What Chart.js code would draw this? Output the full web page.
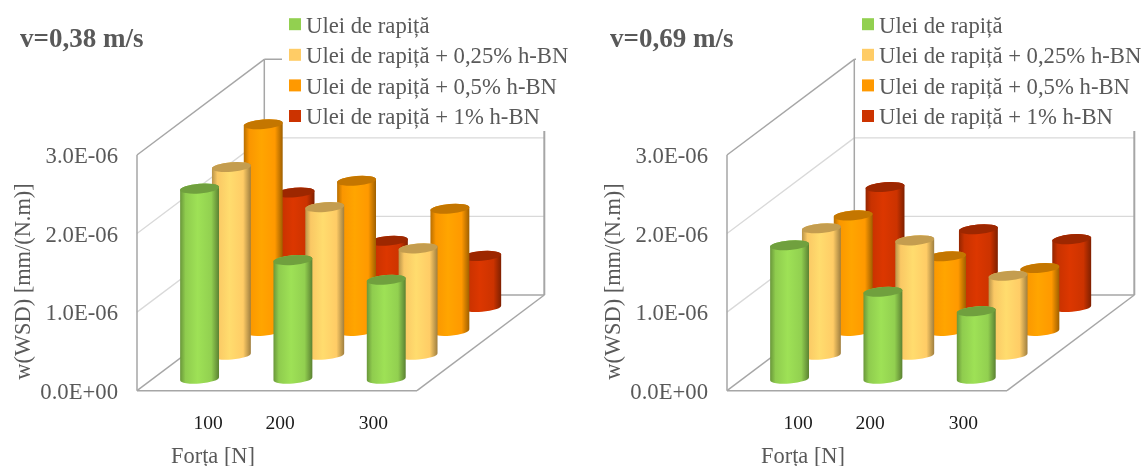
<!DOCTYPE html>
<html lang="ro">
<head>
<meta charset="utf-8">
<title>w(WSD)</title>
<script src="https://cdn.jsdelivr.net/npm/chart.js@4"></script>
<style>
  html, body { margin: 0; background: #fff; }
  canvas { position: absolute; top: 0; }
</style>
</head>
<body>
<canvas id="graficStanga" width="590" height="466" style="left:0"></canvas>
<canvas id="graficDreapta" width="554" height="466" style="left:590px"></canvas>
<script>
// date
const categorii = ['100', '200', '300'];
const serii = ['Ulei de rapiță', 'Ulei de rapiță + 0,25% h-BN', 'Ulei de rapiță + 0,5% h-BN', 'Ulei de rapiță + 1% h-BN'];
const culori = ['#92D050', '#FFCC66', '#FF9900', '#CC3300'];
const etichetaY = ['0.0E+00', '1.0E-06', '2.0E-06', '3.0E-06'];
const titluX = 'Forța [N]';
const titluY = 'w(WSD) [mm/(N.m)]';

// v=0,38 m/s
const v038Rapita = [2.42e-6, 1.51e-6, 1.26e-6];
const v038Bn025 = [2.39e-6, 1.88e-6, 1.355e-6];
const v038Bn05 = [2.63e-6, 1.91e-6, 1.555e-6];
const v038Bn1 = [1.457e-6, 0.843e-6, 0.65e-6];

// v=0,69 m/s
const v069Rapita = [1.70e-6, 1.107e-6, 0.86e-6];
const v069Bn025 = [1.61e-6, 1.457e-6, 1.006e-6];
const v069Bn05 = [1.47e-6, 0.95e-6, 0.80e-6];
const v069Bn1 = [1.527e-6, 0.99e-6, 0.863e-6];

const FONT = '"Liberation Serif", "Times New Roman", serif';
const GRI_TEXT = '#595959';
const GRI_LINIE = '#A6A6A6';
const GRI_GRID = '#D9D9D9';

// adancimea podelei 3D fata de peretele din fata
const ADANCIME_X = 127.3;
const ADANCIME_Y = 95.7;
const RAZA_Y = 4.8;
const TILT = -0.08;

function nuanta(hex, k) {
  const n = parseInt(hex.slice(1), 16);
  const c = [n >> 16, (n >> 8) & 255, n & 255].map(v => Math.min(255, Math.round(v * k)));
  return `rgb(${c[0]},${c[1]},${c[2]})`;
}

function linie(ctx, x1, y1, x2, y2, culoare, grosime) {
  ctx.beginPath();
  ctx.moveTo(x1, y1);
  ctx.lineTo(x2, y2);
  ctx.strokeStyle = culoare;
  ctx.lineWidth = grosime;
  ctx.stroke();
}

function cilindru(ctx, el, idx, culoare) {
  const f = (idx + 0.5) / serii.length;
  const cx = el.x + ADANCIME_X * f;
  const yTop = el.y - ADANCIME_Y * f;
  const yBase = el.base - ADANCIME_Y * f;
  const r = el.width / 2;

  const grad = ctx.createLinearGradient(cx - r, 0, cx + r, 0);
  grad.addColorStop(0, nuanta(culoare, 0.72));
  grad.addColorStop(0.14, nuanta(culoare, 0.98));
  grad.addColorStop(0.45, nuanta(culoare, 1.08));
  grad.addColorStop(0.8, nuanta(culoare, 1.0));
  grad.addColorStop(1, nuanta(culoare, 0.62));

  ctx.beginPath();
  ctx.ellipse(cx, yBase, r, RAZA_Y, TILT, 0, Math.PI);
  ctx.ellipse(cx, yTop, r, RAZA_Y, TILT, Math.PI, Math.PI * 2);
  ctx.closePath();
  ctx.fillStyle = grad;
  ctx.fill();

  ctx.beginPath();
  ctx.ellipse(cx, yTop, r, RAZA_Y, TILT, 0, Math.PI * 2);
  ctx.fillStyle = nuanta(culoare, 0.77);
  ctx.fill();
}

const plugin3d = {
  id: 'plugin3d',
  // etichetele de pe X nu sunt sub centrul categoriei in original
  afterUpdate(chart, args, opts) {
    chart.scales.x.getLabelItems().forEach((item, i) => {
      item.options.translation[0] += opts.decalajEtichete[i];
    });
    chart.scales.y.getLabelItems().forEach(item => {
      item.options.translation[1] += 2;
    });
  },
  beforeDatasetsDraw(chart, args, opts) {
    const ctx = chart.ctx;
    const { x, y } = chart.scales;
    const st = x.left, dr = x.right;
    const jos = y.getPixelForValue(0);
    ctx.save();

    // liniile de grila pe pereti
    [1e-6, 2e-6].forEach(v => {
      const py = y.getPixelForValue(v);
      linie(ctx, st, py, st + ADANCIME_X, py - ADANCIME_Y, GRI_GRID, 1.3);
      linie(ctx, st + ADANCIME_X, py - ADANCIME_Y, dr + ADANCIME_X, py - ADANCIME_Y, GRI_GRID, 1.3);
    });

    const sus = y.getPixelForValue(3e-6);
    linie(ctx, st, sus, st, jos, GRI_LINIE, 1.5);
    linie(ctx, st, sus, st + ADANCIME_X, sus - ADANCIME_Y, GRI_LINIE, 1.5);
    linie(ctx, st + ADANCIME_X, sus - ADANCIME_Y, st + ADANCIME_X, jos - ADANCIME_Y, GRI_LINIE, 1.5);
    linie(ctx, st + ADANCIME_X, sus - ADANCIME_Y, dr + ADANCIME_X, sus - ADANCIME_Y, GRI_LINIE, 1.5);
    linie(ctx, dr + ADANCIME_X, sus - ADANCIME_Y, dr + ADANCIME_X, jos - ADANCIME_Y, GRI_LINIE, 2);
    linie(ctx, st, jos, st + ADANCIME_X, jos - ADANCIME_Y, GRI_LINIE, 1.5);
    linie(ctx, st + ADANCIME_X, jos - ADANCIME_Y, dr + ADANCIME_X, jos - ADANCIME_Y, GRI_LINIE, 1.5);
    linie(ctx, st, jos, dr, jos, GRI_LINIE, 1.5);
    linie(ctx, dr, jos, dr + ADANCIME_X, jos - ADANCIME_Y, GRI_LINIE, 1.5);

    // fundalul alb al legendei acopera capatul peretelui
    ctx.fillStyle = '#fff';
    ctx.fillRect(opts.cutieLegenda, 0, chart.width - opts.cutieLegenda, 131);

    // titlurile axelor
    ctx.fillStyle = GRI_TEXT;
    ctx.font = `22.4px ${FONT}`;
    ctx.textAlign = 'center';
    ctx.textBaseline = 'middle';
    ctx.fillText(titluX, 213, 457.5);
    ctx.translate(24, 281.5);
    ctx.rotate(-Math.PI / 2);
    ctx.fillText(titluY, 0, 0);
    ctx.restore();

    // legenda
    ctx.save();
    ctx.font = `22.7px ${FONT}`;
    ctx.textBaseline = 'middle';
    chart.data.datasets.forEach((ds, i) => {
      const yr = 24.2 + i * 30.6;
      ctx.fillStyle = ds.backgroundColor;
      ctx.fillRect(opts.legendaX, yr - 6, 12, 12);
      ctx.fillStyle = GRI_TEXT;
      ctx.fillText(ds.label, opts.legendaX + 17, yr + 2.5);
    });
    ctx.restore();
  },
  // barele se deseneaza ca cilindri, din spate in fata
  beforeDatasetDraw(chart, args) {
    const ctx = chart.ctx;
    const culoare = chart.data.datasets[args.index].backgroundColor;
    ctx.save();
    args.meta.data.forEach(el => cilindru(ctx, el, args.index, culoare));
    ctx.restore();
    return false;
  }
};

function creeazaGrafic(idCanvas, titlu, valori, dreapta, legendaX, cutieLegenda) {
  return new Chart(document.getElementById(idCanvas), {
    type: 'bar',
    data: {
      labels: categorii,
      datasets: serii.map((nume, i) => ({
        label: nume,
        data: valori[i],
        backgroundColor: culori[i],
        grouped: false,
        categoryPercentage: 1,
        barPercentage: 0.418
      }))
    },
    plugins: [plugin3d],
    options: {
      responsive: false,
      animation: false,
      layout: { padding: { left: 20, right: dreapta, top: 0, bottom: 0 } },
      plugins: {
        legend: { display: false },
        tooltip: { enabled: false },
        title: {
          display: true,
          text: titlu,
          align: 'start',
          color: GRI_TEXT,
          font: { family: FONT, size: 27, weight: 'bold', lineHeight: 1.2 },
          padding: { top: 23.8, bottom: 98.8 }
        },
        plugin3d: { legendaX, cutieLegenda, decalajEtichete: [24.4, 3, 3] }
      },
      scales: {
        x: {
          grid: { display: false, drawTicks: false },
          border: { display: false },
          ticks: { color: '#1a1a1a', font: { family: FONT, size: 19.5 }, padding: 21, maxRotation: 0 },
          afterFit(s) { s.height = 75.3; }
        },
        y: {
          min: 0,
          max: 3e-6,
          grid: { display: false, drawTicks: false },
          border: { display: false },
          ticks: {
            stepSize: 1e-6,
            color: GRI_TEXT,
            font: { family: FONT, size: 22.7 },
            padding: 19,
            callback: (v, i) => etichetaY[i]
          },
          afterFit(s) { s.width = 117; }
        }
      }
    }
  });
}

creeazaGrafic('graficStanga', 'v=0,38 m/s', [v038Rapita, v038Bn025, v038Bn05, v038Bn1], 173, 289, 282);
creeazaGrafic('graficDreapta', 'v=0,69 m/s', [v069Rapita, v069Bn025, v069Bn05, v069Bn1], 137, 272, 266);
</script>
</body>
</html>
